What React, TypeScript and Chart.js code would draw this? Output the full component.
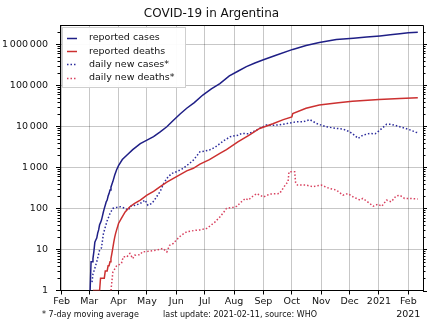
import React, { useEffect, useRef } from "react";
import { Chart, registerables } from "chart.js";

Chart.register(...registerables);

const ORIGIN = Date.UTC(2020, 1, 1);
const dayOf = (iso: string): number => {
  const [y, m, d] = iso.split("-").map(Number);
  return (Date.UTC(y, m - 1, d) - ORIGIN) / 86400000;
};

const chartTitle = "COVID-19 in Argentina";
const footNote = "* 7-day moving average";
const sourceNote = "last update: 2021-02-11, source: WHO";

const seriesLabels = ["reported cases", "reported deaths", "daily new cases*", "daily new deaths*"];
const seriesColors = ["#1f1f86", "#cc3030", "#2b2b9c", "#d8405e"];

const monthTickDates = [
  "2020-02-01", "2020-03-01", "2020-04-01", "2020-05-01", "2020-06-01", "2020-07-01",
  "2020-08-01", "2020-09-01", "2020-10-01", "2020-11-01", "2020-12-01", "2021-01-01", "2021-02-01",
];
const monthTickLabels: (string | string[])[] = [
  "Feb", "Mar", "Apr", "May", "Jun", "Jul", "Aug", "Sep", "Oct", "Nov", "Dec", "2021", ["Feb", "2021"],
];
const yTickValues = [1, 10, 100, 1000, 10000, 100000, 1000000];

// reported cases (cumulative)
const caseDates = [
  "2020-03-02", "2020-03-03", "2020-03-04", "2020-03-05", "2020-03-06", "2020-03-07", "2020-03-08",
  "2020-03-09", "2020-03-10", "2020-03-11", "2020-03-12", "2020-03-13", "2020-03-14", "2020-03-15",
  "2020-03-16", "2020-03-17", "2020-03-18", "2020-03-19", "2020-03-20", "2020-03-21", "2020-03-22",
  "2020-03-23", "2020-03-24", "2020-03-25", "2020-03-26", "2020-03-28", "2020-03-30", "2020-04-01",
  "2020-04-05", "2020-04-10", "2020-04-16", "2020-04-24", "2020-05-01", "2020-05-08", "2020-05-15",
  "2020-05-22", "2020-05-29", "2020-06-05", "2020-06-12", "2020-06-20", "2020-06-29", "2020-07-08",
  "2020-07-17", "2020-07-27", "2020-08-05", "2020-08-14", "2020-08-23", "2020-09-01", "2020-09-15",
  "2020-10-02", "2020-10-16", "2020-10-30", "2020-11-17", "2020-12-05", "2020-12-19", "2021-01-02",
  "2021-01-13", "2021-01-23", "2021-02-01", "2021-02-11",
];
const caseValues = [
  1, 5, 5, 6, 9, 15, 17,
  19, 25, 30, 40, 45, 52, 65,
  82, 100, 120, 145, 160, 200, 230,
  280, 330, 390, 450, 650, 880, 1100,
  1550, 2000, 2700, 3800, 4600, 5600, 7300,
  9800, 14100, 20000, 27600, 38000, 58000, 82000,
  110000, 170000, 220000, 285000, 350000, 418000, 550000,
  750000, 930000, 1110000, 1300000, 1410000, 1500000, 1600000,
  1700000, 1800000, 1900000, 1960000,
];

// reported deaths (cumulative)
const deathDates = [
  "2020-03-05", "2020-03-12", "2020-03-13", "2020-03-17", "2020-03-18", "2020-03-20", "2020-03-21",
  "2020-03-22", "2020-03-23", "2020-03-24", "2020-03-25", "2020-03-26", "2020-03-27", "2020-03-28",
  "2020-03-29", "2020-03-30", "2020-04-01", "2020-04-04", "2020-04-08", "2020-04-13", "2020-04-18",
  "2020-04-24", "2020-05-01", "2020-05-08", "2020-05-15", "2020-05-22", "2020-05-29", "2020-06-12",
  "2020-06-19", "2020-06-26", "2020-07-06", "2020-07-17", "2020-07-24", "2020-08-05", "2020-08-17",
  "2020-08-28", "2020-09-11", "2020-09-22", "2020-10-01", "2020-10-02", "2020-10-16", "2020-10-30",
  "2020-11-19", "2020-12-04", "2021-01-01", "2021-01-23", "2021-02-11",
];
const deathValues = [
  1, 1, 2, 2, 3, 3, 4,
  4, 5, 6, 8, 11, 15, 20,
  25, 30, 43, 57, 82, 110, 132,
  160, 210, 260, 340, 440, 540, 820,
  950, 1200, 1550, 2200, 2700, 4200, 6100,
  8900, 11600, 14600, 17000, 20500, 27500, 33000,
  37500, 41000, 45000, 47500, 50000,
];

// daily new cases, 7-day moving average
const dailyCaseDates = [
  "2020-03-04", "2020-03-05", "2020-03-07", "2020-03-09", "2020-03-12", "2020-03-14", "2020-03-16",
  "2020-03-18", "2020-03-20", "2020-03-23", "2020-03-26", "2020-03-30", "2020-04-03", "2020-04-08",
  "2020-04-11", "2020-04-15", "2020-04-18", "2020-04-24", "2020-04-29", "2020-05-02", "2020-05-06",
  "2020-05-09", "2020-05-11", "2020-05-15", "2020-05-18", "2020-05-22", "2020-05-27", "2020-06-01",
  "2020-06-08", "2020-06-14", "2020-06-19", "2020-06-26", "2020-07-01", "2020-07-06", "2020-07-12",
  "2020-07-17", "2020-07-22", "2020-07-28", "2020-08-05", "2020-08-09", "2020-08-16", "2020-08-21",
  "2020-08-28", "2020-09-04", "2020-09-11", "2020-09-18", "2020-09-25", "2020-10-06", "2020-10-13",
  "2020-10-20", "2020-10-27", "2020-11-06", "2020-11-17", "2020-11-24", "2020-12-01", "2020-12-06",
  "2020-12-10", "2020-12-15", "2020-12-22", "2020-12-28", "2021-01-02", "2021-01-09", "2021-01-14",
  "2021-01-23", "2021-02-01", "2021-02-09", "2021-02-11",
];
const dailyCaseValues = [
  1.6, 2.5, 3.5, 5, 9.6, 11, 24,
  35, 50, 75, 100, 106, 110, 100,
  91, 120, 118, 132, 160, 120, 132,
  160, 190, 260, 380, 540, 710, 780,
  940, 1200, 1500, 2400, 2500, 2650, 3100,
  3800, 4600, 5600, 6100, 6700, 6600, 7400,
  8900, 10800, 10600, 10900, 11600, 12900, 12900,
  14600, 11800, 9800, 8900, 8600, 7400, 6100,
  5100, 6100, 6700, 6600, 8100, 11200, 11200,
  9800, 8500, 7200, 7000,
];

// daily new deaths, 7-day moving average
const dailyDeathDates = [
  "2020-03-24", "2020-03-26", "2020-03-30", "2020-04-04", "2020-04-06", "2020-04-10", "2020-04-11",
  "2020-04-13", "2020-04-16", "2020-04-18", "2020-04-24", "2020-04-26", "2020-05-02", "2020-05-11",
  "2020-05-18", "2020-05-22", "2020-05-25", "2020-05-29", "2020-06-01", "2020-06-06", "2020-06-12",
  "2020-06-20", "2020-06-26", "2020-07-03", "2020-07-07", "2020-07-12", "2020-07-17", "2020-07-21",
  "2020-07-24", "2020-07-31", "2020-08-04", "2020-08-08", "2020-08-11", "2020-08-13", "2020-08-16",
  "2020-08-21", "2020-08-25", "2020-09-01", "2020-09-08", "2020-09-18", "2020-09-24", "2020-09-27",
  "2020-09-28", "2020-10-04", "2020-10-05", "2020-10-07", "2020-10-16", "2020-10-23", "2020-11-01",
  "2020-11-10", "2020-11-17", "2020-11-24", "2020-11-29", "2020-12-05", "2020-12-12", "2020-12-15",
  "2020-12-20", "2020-12-26", "2020-12-31", "2021-01-04", "2021-01-09", "2021-01-14", "2021-01-19",
  "2021-01-23", "2021-01-28", "2021-02-02", "2021-02-11",
];
const dailyDeathValues = [
  1, 2.8, 4, 4.5, 6.6, 6.6, 7.2,
  8, 6, 7.2, 7.5, 8.7, 9, 9.6,
  10.6, 8.7, 12.7, 14, 17, 22, 27,
  29, 30, 32.5, 38, 47, 62, 80,
  100, 106, 113, 140, 160, 175, 160,
  200, 230, 190, 225, 230, 370, 450,
  780, 780, 420, 370, 370, 340, 370,
  305, 280, 210, 230, 190, 160, 175,
  145, 113, 127, 113, 160, 145, 200,
  210, 175, 175, 170,
];

const FONT = "'DejaVu Sans', 'Noto Sans', sans-serif";

const toPoints = (dates: string[], values: number[]) =>
  dates.map((d, i) => ({ x: dayOf(d), y: values[i] }));

const frameAndLegendPlugin = {
  id: "frameAndLegend",
  afterDatasetsDraw(chart: any) {
    const { ctx, chartArea } = chart;
    const yScale = chart.scales.y;
    const { left, right, top, bottom } = chartArea;
    ctx.save();
    ctx.strokeStyle = "#000";
    ctx.lineWidth = 1;
    ctx.beginPath();
    ctx.moveTo(Math.round(left) + 0.5, Math.round(top) + 0.5);
    ctx.lineTo(Math.round(right) + 0.5, Math.round(top) + 0.5);
    ctx.lineTo(Math.round(right) + 0.5, Math.round(bottom) + 0.5);
    ctx.stroke();
    ctx.beginPath();
    const maxV = yScale.max;
    for (let e = 0; e <= 7; e++) {
      for (let k = 1; k <= 9; k++) {
        const v = k * Math.pow(10, e);
        if (v > maxV || v < 1) continue;
        const py = Math.round(yScale.getPixelForValue(v)) + 0.5;
        const len = k === 1 ? 4 : 2.5;
        if (k !== 1) {
          ctx.moveTo(left - len, py);
          ctx.lineTo(left, py);
        }
        ctx.moveTo(right, py);
        ctx.lineTo(right + len, py);
      }
    }
    ctx.stroke();

    const lx = left + 2;
    const ly = top + 2;
    const lw = 124;
    const lh = 61;
    ctx.fillStyle = "rgba(255,255,255,0.95)";
    ctx.fillRect(lx, ly, lw, lh);
    ctx.strokeStyle = "#cfcfcf";
    ctx.strokeRect(Math.round(lx) + 0.5, Math.round(ly) + 0.5, lw - 1, lh - 1);
    ctx.font = `9.5px ${FONT}`;
    ctx.textBaseline = "middle";
    chart.data.datasets.forEach((ds: any, i: number) => {
      const cy = ly + 11 + i * 13.2;
      ctx.save();
      ctx.strokeStyle = ds.borderColor;
      ctx.lineWidth = 1.5;
      ctx.setLineDash(ds.borderDash || []);
      ctx.beginPath();
      ctx.moveTo(lx + 5, Math.round(cy) + 0.5);
      ctx.lineTo(lx + 15, Math.round(cy) + 0.5);
      ctx.stroke();
      ctx.restore();
      ctx.fillStyle = "#111";
      ctx.fillText(ds.label, lx + 27, cy);
    });
    ctx.restore();
  },
  afterDraw(chart: any) {
    const { ctx } = chart;
    ctx.save();
    ctx.fillStyle = "#111";
    ctx.font = `8px ${FONT}`;
    ctx.textBaseline = "middle";
    ctx.textAlign = "left";
    ctx.fillText(footNote, 42, 315);
    ctx.fillText(sourceNote, 163, 315);
    ctx.restore();
  },
};

export default function App() {
  const canvasRef = useRef<HTMLCanvasElement | null>(null);

  useEffect(() => {
    const canvas = canvasRef.current;
    if (!canvas) return;
    const tickDays = monthTickDates.map(dayOf);
    const solid = { borderWidth: 1.5, pointRadius: 0, tension: 0, fill: false };
    const dotted = { borderWidth: 1.5, pointRadius: 0, tension: 0, fill: false, borderDash: [1.5, 2] };
    const chart = new Chart(canvas, {
      type: "line",
      data: {
        datasets: [
          { ...solid, label: seriesLabels[0], borderColor: seriesColors[0], data: toPoints(caseDates, caseValues) },
          { ...solid, label: seriesLabels[1], borderColor: seriesColors[1], data: toPoints(deathDates, deathValues) },
          { ...dotted, label: seriesLabels[2], borderColor: seriesColors[2], data: toPoints(dailyCaseDates, dailyCaseValues) },
          { ...dotted, label: seriesLabels[3], borderColor: seriesColors[3], data: toPoints(dailyDeathDates, dailyDeathValues) },
        ],
      },
      options: {
        responsive: false,
        animation: false,
        devicePixelRatio: 1,
        font: { family: FONT },
        layout: { padding: { top: 0, right: 17, bottom: 0, left: 0 } },
        plugins: {
          legend: { display: false },
          tooltip: { enabled: false },
          title: {
            display: true,
            text: chartTitle,
            color: "#111",
            font: { family: FONT, size: 12, weight: "normal", lineHeight: 1.2 },
            padding: { top: 7, bottom: 3.6 },
          },
        },
        scales: {
          x: {
            type: "linear",
            min: -1.8,
            max: 381.5,
            afterBuildTicks: (scale: any) => {
              scale.ticks = tickDays.map((v) => ({ value: v }));
            },
            afterFit: (scale: any) => {
              scale.height = 39.5;
            },
            ticks: {
              autoSkip: false,
              maxRotation: 0,
              padding: 1,
              color: "#111",
              font: { family: FONT, size: 9.5, lineHeight: 1.35 },
              callback: (value: any) => {
                const idx = tickDays.indexOf(Number(value));
                return idx >= 0 ? monthTickLabels[idx] : "";
              },
            },
            grid: { color: "rgba(0,0,0,0.22)", lineWidth: 1, tickColor: "#000", tickLength: 4, drawTicks: true },
            border: { display: true, color: "#000", width: 1 },
          },
          y: {
            type: "logarithmic",
            min: 1,
            max: 2.95e6,
            afterBuildTicks: (scale: any) => {
              scale.ticks = yTickValues.map((v) => ({ value: v }));
            },
            afterFit: (scale: any) => {
              scale.width = 60;
            },
            ticks: {
              autoSkip: false,
              padding: 8,
              color: "#111",
              font: { family: FONT, size: 9.5 },
              callback: (value: any) =>
                String(Math.round(Number(value))).replace(/\B(?=(\d{3})+(?!\d))/g, "\u2009"),
            },
            grid: { color: "rgba(0,0,0,0.22)", lineWidth: 1, tickColor: "#000", tickLength: 4, drawTicks: true },
            border: { display: true, color: "#000", width: 1 },
          },
        },
      } as any,
      plugins: [frameAndLegendPlugin],
    });
    return () => chart.destroy();
  }, []);

  return (
    <div style={{ position: "absolute", left: 0, top: 0, width: 440, height: 330, background: "#fff" }}>
      <canvas ref={canvasRef} width={440} height={330} style={{ width: 440, height: 330, display: "block" }} />
    </div>
  );
}
